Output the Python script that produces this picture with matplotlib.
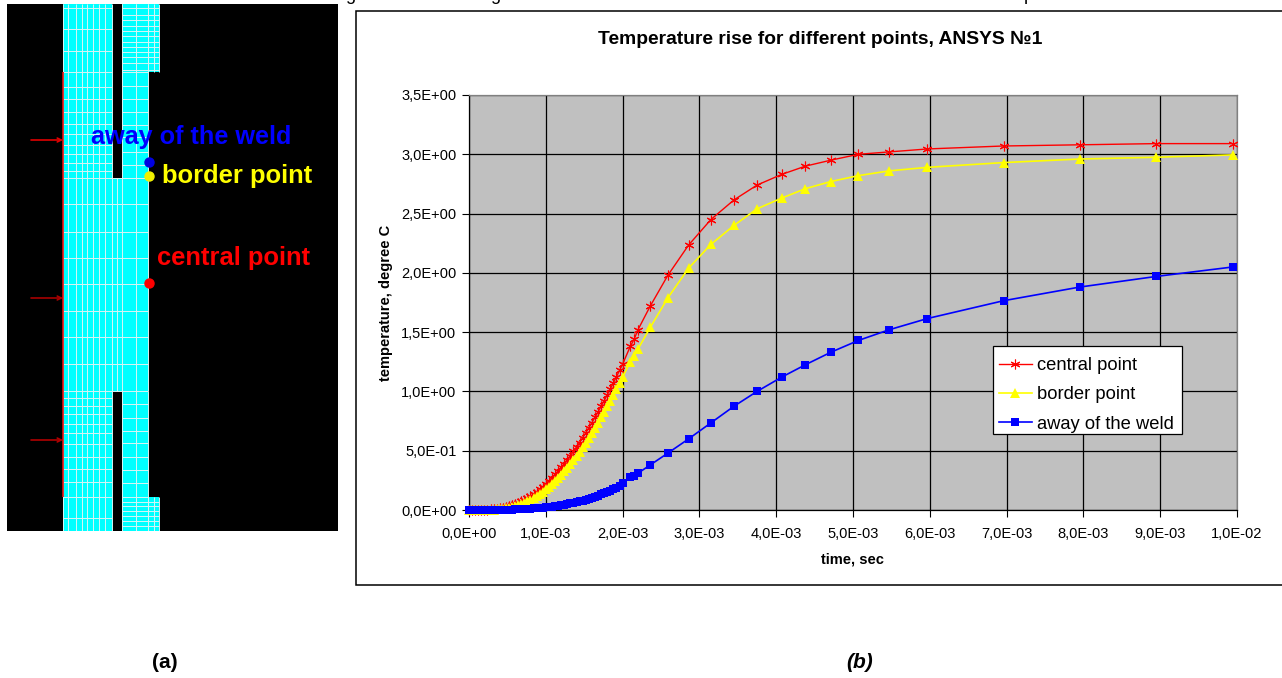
import matplotlib
matplotlib.use('Agg')
import matplotlib.pyplot as plt
from matplotlib.patches import Rectangle

plt.rcParams['font.family'] = ['Liberation Sans', 'DejaVu Sans']

W, H = 1282, 678

# chart data (time in units of 1e-3 s)
t_ms = [0, 0.04, 0.08, 0.12, 0.16, 0.2, 0.24, 0.28, 0.32, 0.36, 0.4, 0.44, 0.48, 0.52, 0.56, 0.6, 0.64, 0.68,
        0.72, 0.76, 0.8, 0.84, 0.88, 0.92, 0.96, 1.0, 1.04, 1.08, 1.12, 1.16, 1.2, 1.24, 1.28, 1.32, 1.36, 1.4,
        1.44, 1.48, 1.52, 1.56, 1.6, 1.64, 1.68, 1.72, 1.76, 1.8, 1.84, 1.88, 1.92, 1.96, 2.0,
        2.1, 2.15, 2.2, 2.36, 2.59, 2.86, 3.15, 3.45, 3.75, 4.07, 4.38, 4.71, 5.07, 5.47, 5.97, 6.96, 7.95,
        8.95, 9.95]
central = [0, 0, 0, 0.001, 0.001, 0.002, 0.003, 0.005, 0.007, 0.01, 0.014, 0.019, 0.025, 0.032, 0.04, 0.049, 0.06,
           0.072, 0.086, 0.1, 0.117, 0.135, 0.154, 0.175, 0.197, 0.221, 0.246, 0.272, 0.3, 0.329, 0.359, 0.391,
           0.424, 0.458, 0.494, 0.531, 0.569, 0.609, 0.65, 0.692, 0.736, 0.781, 0.827, 0.874, 0.922, 0.971, 1.021,
           1.072, 1.124, 1.177, 1.23,
           1.38, 1.44, 1.52, 1.72, 1.98, 2.235, 2.45, 2.615, 2.74, 2.83, 2.9, 2.95, 3.0, 3.02, 3.045, 3.07, 3.08,
           3.09, 3.09]
border = [0, 0, 0, 0, 0.001, 0.001, 0.002, 0.003, 0.004, 0.006, 0.008, 0.011, 0.015, 0.02, 0.026, 0.033, 0.041,
          0.05, 0.061, 0.073, 0.086, 0.101, 0.117, 0.135, 0.154, 0.175, 0.197, 0.22, 0.245, 0.271, 0.299, 0.328,
          0.358, 0.39, 0.423, 0.457, 0.493, 0.53, 0.569, 0.609, 0.65, 0.692, 0.736, 0.781, 0.827, 0.874, 0.922,
          0.971, 1.02, 1.07, 1.12,
          1.25, 1.3, 1.357, 1.54, 1.79, 2.04, 2.24, 2.4, 2.54, 2.63, 2.71, 2.77, 2.82, 2.86, 2.89, 2.93, 2.96,
          2.975, 2.995]
away = [0, 0, 0, 0, 0, 0, 0, 0.001, 0.001, 0.001, 0.002, 0.002, 0.003, 0.003, 0.004, 0.005, 0.006, 0.007, 0.008,
        0.009, 0.011, 0.013, 0.015, 0.017, 0.019, 0.022, 0.025, 0.028, 0.032, 0.036, 0.04, 0.045, 0.05, 0.055,
        0.061, 0.067, 0.073, 0.08, 0.087, 0.095, 0.103, 0.112, 0.121, 0.131, 0.141, 0.152, 0.164, 0.176, 0.189,
        0.203, 0.225,
        0.275, 0.29, 0.31, 0.38, 0.48, 0.6, 0.735, 0.875, 1.0, 1.12, 1.225, 1.33, 1.43, 1.52, 1.615, 1.765, 1.88,
        1.97, 2.05]

x_ticks = [i * 1e-3 for i in range(11)]
x_labels = ['0,0E+00', '1,0E-03', '2,0E-03', '3,0E-03', '4,0E-03', '5,0E-03', '6,0E-03', '7,0E-03', '8,0E-03',
            '9,0E-03', '1,0E-02']
y_ticks = [0, 0.5, 1.0, 1.5, 2.0, 2.5, 3.0, 3.5]
y_labels = ['0,0E+00', '5,0E-01', '1,0E+00', '1,5E+00', '2,0E+00', '2,5E+00', '3,0E+00', '3,5E+00']

# mesh schematic, pixel positions in the picture
left_v = [63, 68, 76, 82, 87, 93, 99, 105, 112]
mid_v = [117, 122, 136, 148]
top_v = [122, 136, 148, 154, 159]
left_h = [8, 29, 51, 72, 87, 99, 112, 124, 134, 145, 154, 163, 171, 178, 204, 232, 258, 284, 311, 337, 364, 391,
          398, 406, 414, 424, 433, 444, 457, 469, 482, 497, 518]
right_h = [72, 86, 99, 112, 125, 137, 152, 165, 178, 404, 418, 431, 443, 457, 470, 483, 497]
top_h = [8, 15, 20, 26, 31, 36, 42, 47, 52, 57, 63, 70, 502, 506, 511, 516, 521, 526]
arrow_y = [140, 298, 440]


def axes_px(x0, y0, x1, y1):
    return [x0 / W, 1 - y1 / H, (x1 - x0) / W, (y1 - y0) / H]


fig = plt.figure(figsize=(W / 100, H / 100), dpi=100, facecolor='white')

# whole figure overlay in pixels
bg = fig.add_axes([0, 0, 1, 1])
bg.set_xlim(0, W)
bg.set_ylim(H, 0)
bg.axis('off')
bg.add_patch(Rectangle((356, 11), 940, 574, fc='white', ec='black', lw=1.1))
bg.text(165, 662, '(a)', fontsize=15, fontweight='bold', ha='center', va='center')
bg.text(860, 662, '(b)', fontsize=15, fontweight='bold', style='italic', ha='center', va='center')
# only the descenders of the line above the chart are left in the picture
bg.text(350, -0.5, 'g', fontsize=13, ha='center', va='baseline')
bg.text(495, -0.5, 'g', fontsize=13, ha='center', va='baseline')
bg.text(1029, -0.5, 'p', fontsize=13, ha='center', va='baseline')

# left picture
m = fig.add_axes(axes_px(7, 4, 338, 531), facecolor='black')
m.set_xlim(7, 338)
m.set_ylim(531, 4)
m.set_xticks([])
m.set_yticks([])
for s in m.spines.values():
    s.set_visible(False)
cyan = '#00FFFF'
mesh = '#D8F4F4'
lw_mesh = 0.7
m.add_patch(Rectangle((63, 4), 49, 527, fc=cyan, ec='none'))
m.add_patch(Rectangle((112, 178), 36, 213, fc=cyan, ec='none'))
m.add_patch(Rectangle((122, 4), 26, 527, fc=cyan, ec='none'))
m.add_patch(Rectangle((122, 4), 37, 68, fc=cyan, ec='none'))
m.add_patch(Rectangle((122, 497), 37, 34, fc=cyan, ec='none'))
m.vlines(left_v, 4, 531, color=mesh, lw=lw_mesh)
m.vlines(mid_v, 178, 391, color=mesh, lw=lw_mesh)
m.vlines(mid_v[1:], 4, 178, color=mesh, lw=lw_mesh)
m.vlines(mid_v[1:], 391, 531, color=mesh, lw=lw_mesh)
m.vlines(top_v, 4, 72, color=mesh, lw=lw_mesh)
m.vlines(top_v, 497, 531, color=mesh, lw=lw_mesh)
m.hlines(left_h, 63, 112, color=mesh, lw=lw_mesh)
m.hlines([178, 204, 232, 258, 284, 311, 337, 364, 391], 112, 148, color=mesh, lw=lw_mesh)
m.hlines(right_h, 122, 148, color=mesh, lw=lw_mesh)
m.hlines(top_h, 122, 159, color=mesh, lw=lw_mesh)
m.vlines(63, 72, 497, color='#E01010', lw=1.2)
for y, c in zip(arrow_y, ['#E00000', '#A80000', '#B00000']):
    m.annotate('', xy=(63, y), xytext=(31, y), arrowprops=dict(arrowstyle='->', color=c, lw=1.2, mutation_scale=7,
                                                              shrinkA=0, shrinkB=0))
m.plot([149], [162], 'o', color='#0000E0', ms=6.5)
m.plot([149], [176], 'o', color='#F0F000', ms=6.5)
m.plot([149], [283], 'o', color='#FF0000', ms=6.5)
m.text(91, 137, 'away of the weld', color='#0000FF', fontsize=18.2, fontweight='bold', va='center')
m.text(162, 175.5, 'border point', color='#FFFF00', fontsize=18.4, fontweight='bold', va='center')
m.text(157, 258.5, 'central point', color='#FF0000', fontsize=18.4, fontweight='bold', va='center')

# chart
ax = fig.add_axes(axes_px(469, 95, 1237, 510), facecolor='#C0C0C0')
t = [v * 1e-3 for v in t_ms]
ax.plot(t, central, color='#FF0000', lw=1, marker=(6, 2, 0), ms=7, mew=0.8, label='central point', zorder=3,
        clip_on=False)
ax.plot(t, border, color='#FFFF00', lw=1.2, marker='^', ms=7, mew=0, label='border point', zorder=4, clip_on=False)
ax.plot(t, away, color='#0000FF', lw=1.2, marker='s', ms=5.6, mew=0, label='away of the weld', zorder=5,
        clip_on=False)
ax.set_xlim(0, 0.01)
ax.set_ylim(0, 3.5)
ax.set_xticks(x_ticks)
ax.set_xticklabels(x_labels)
ax.set_yticks(y_ticks)
ax.set_yticklabels(y_labels)
ax.tick_params(labelsize=10.5, length=5, width=0.8, color='black')
ax.tick_params(axis='x', pad=7)
ax.tick_params(axis='y', pad=4)
ax.grid(True, color='black', lw=0.9)
ax.set_axisbelow(True)
for sp in ['top', 'right']:
    ax.spines[sp].set_color('#808080')
for s in ax.spines.values():
    s.set_linewidth(0.9)
ax.set_xlabel('time, sec', fontsize=10.5, fontweight='bold', va='center')
ax.set_ylabel('temperature, degree C', fontsize=10.5, fontweight='bold', va='center')
ax.xaxis.set_label_coords((852 - 469) / 768, -(560 - 510) / 415)
ax.yaxis.set_label_coords((386 - 469) / 768, (510 - 303) / 415)
bg.text(820.5, 39, 'Temperature rise for different points, ANSYS №1', fontsize=13.9, fontweight='bold',
        ha='center', va='center')

# legend box drawn apart from the entries so the rows sit as in the picture
ax.add_patch(Rectangle(((993 - 469) / 768, (510 - 434) / 415), 189 / 768, 88 / 415, transform=ax.transAxes,
                       fc='white', ec='black', lw=0.9, zorder=9))
leg = ax.legend(loc='lower left', bbox_to_anchor=((993 - 469) / 768, (510 - 439) / 415, 189 / 768, 88 / 415),
                mode='expand', borderaxespad=0, frameon=False, fontsize=13.2, labelspacing=0.66, handlelength=1.75,
                handletextpad=0.3, borderpad=0.35)
leg.set_zorder(10)

fig.savefig('out.png', dpi=100)
